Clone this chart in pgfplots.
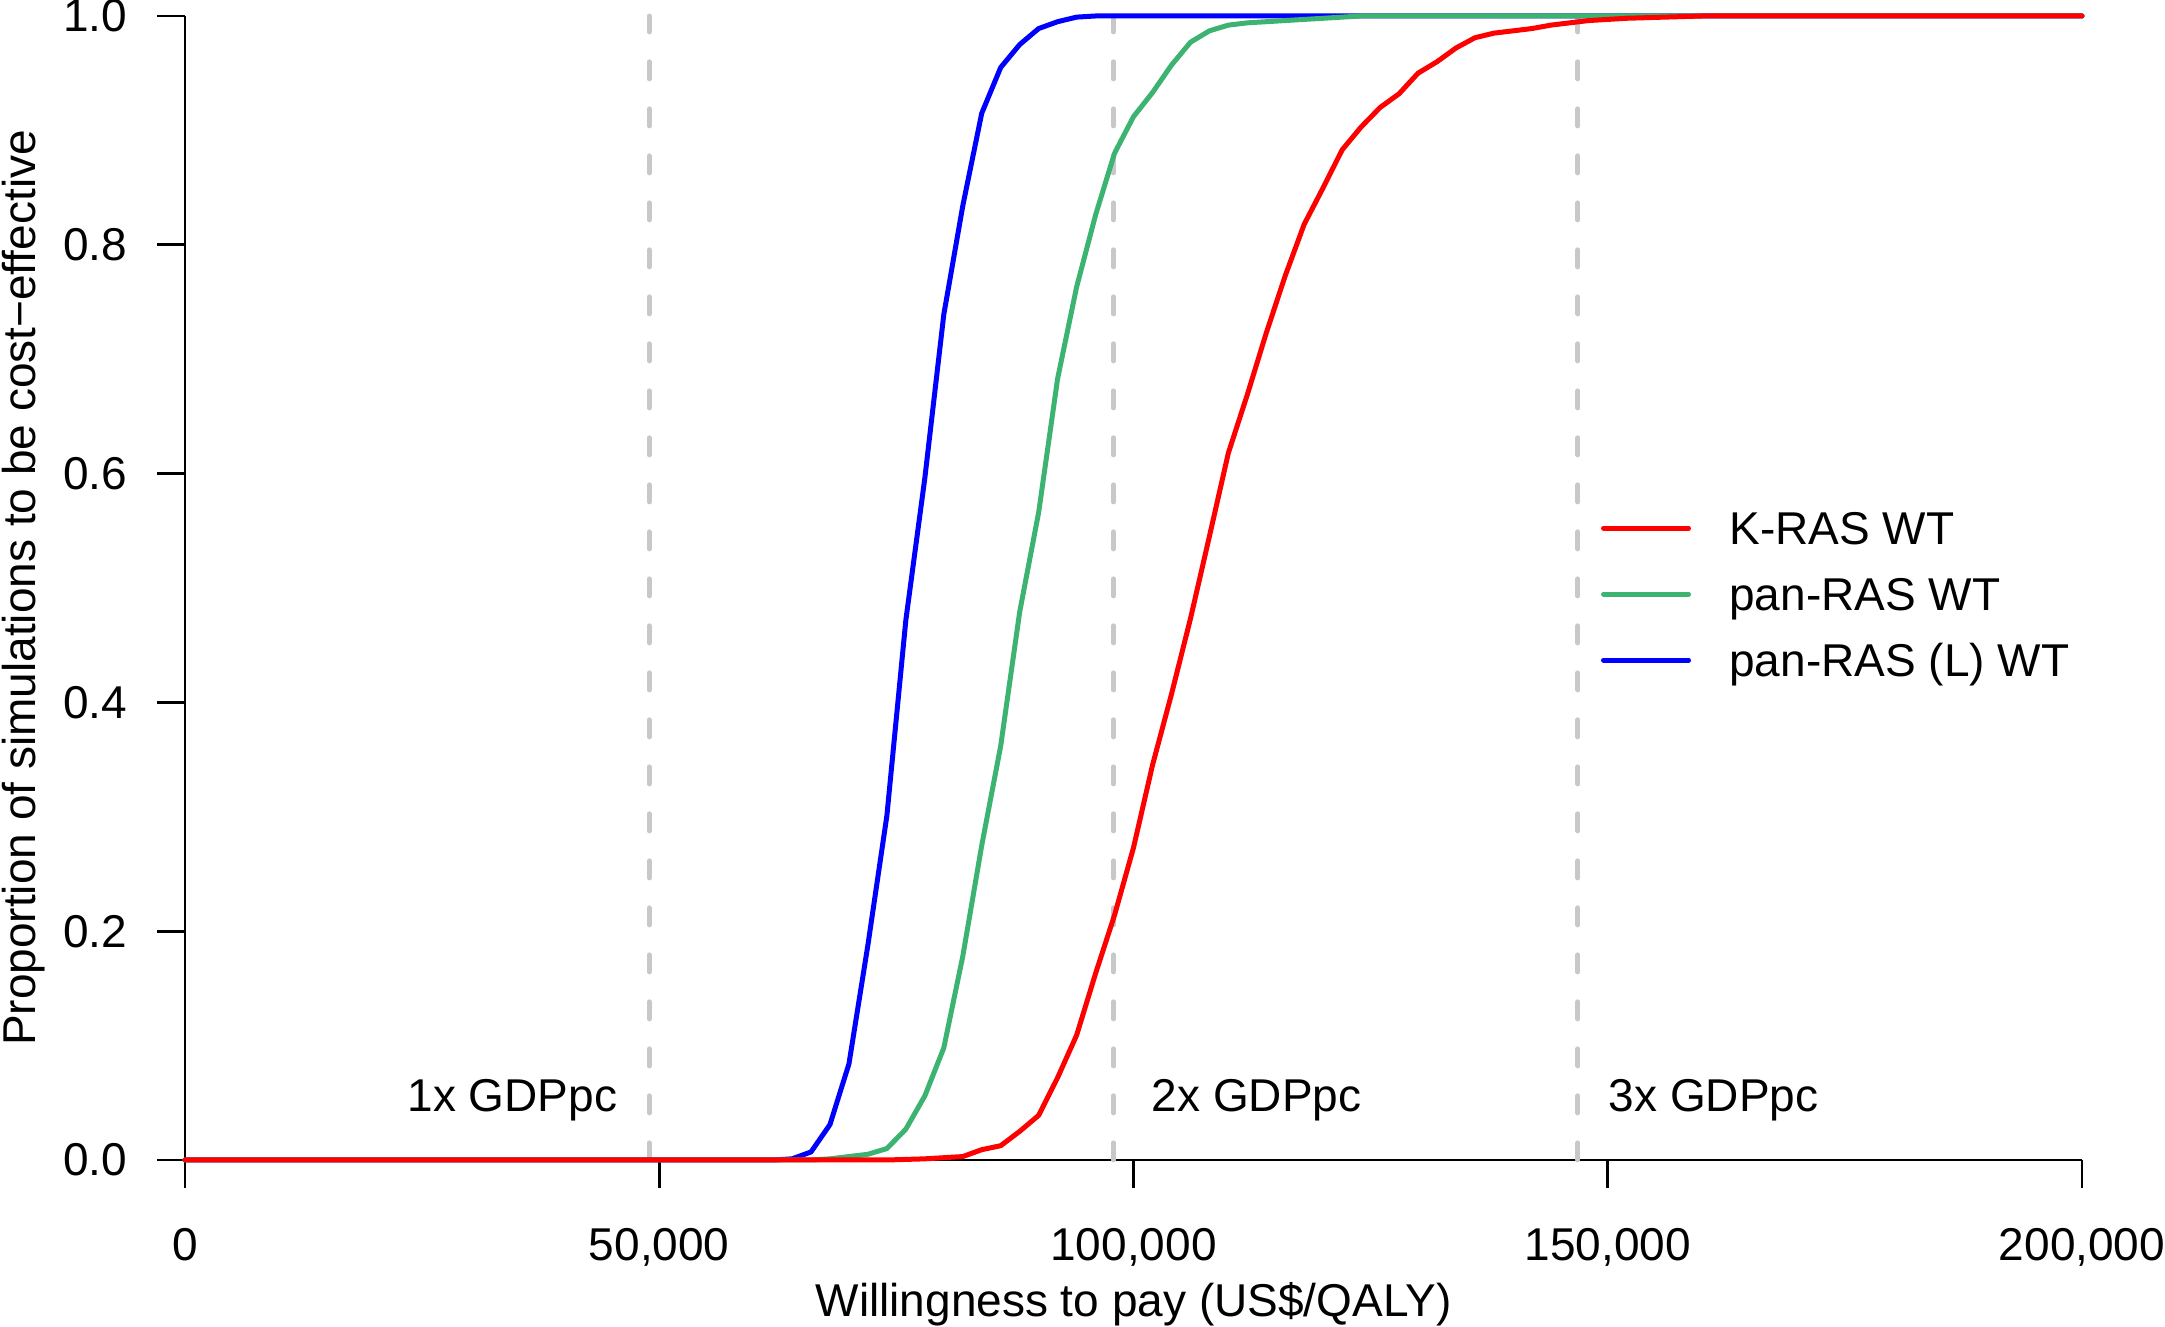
\documentclass[border=0pt]{standalone}
\usepackage{fontspec}
\setmainfont{Liberation Sans}
\usepackage{pgfplots}
\pgfplotsset{compat=1.18}
\definecolor{cred}{RGB}{255,0,0}
\definecolor{cgreen}{RGB}{60,179,113}
\definecolor{cblue}{RGB}{0,0,255}
\definecolor{cgray}{RGB}{200,200,200}

\begin{document}
\fontsize{11.5}{13.8}\selectfont
\begin{tikzpicture}[x=0.25pt,y=0.25pt]
\useasboundingbox (0,0) rectangle (2165,1327);
\begin{axis}[
  at={(46.25pt,41.75pt)}, anchor=south west,
  scale only axis, width=474.25pt, height=286pt,
  xmin=0, xmax=200000, ymin=0, ymax=1,
  clip=false,
  axis lines=left,
  axis line style={-, line width=0.7pt, black},
  xtick={0,50000,100000,150000,200000},
  ytick={0,0.2,0.4,0.6,0.8,1},
  tick align=outside,
  major tick length=7pt,
  tick style={line width=0.7pt, black},
  scaled x ticks=false,
  scaled y ticks=false,
  xticklabel style={/pgf/number format/.cd, fixed, 1000 sep={,}, assume math mode=true, /tikz/.cd, anchor=north, inner sep=0pt, yshift=-10pt},
  yticklabel style={/pgf/number format/.cd, fixed, fixed zerofill, precision=1, assume math mode=true, /tikz/.cd, anchor=east, inner sep=0pt, xshift=-7.25pt},
  legend style={at={(axis cs:149290,0.5695)}, anchor=north west, draw=none, fill=none,
    inner sep=0pt, outer sep=0pt, row sep=4.5pt,
    nodes={inner sep=0pt, outer sep=0pt, text height=9pt, text depth=3pt, anchor=base west},
    cells={anchor=base west},
    /tikz/every odd column/.append style={column sep=9.6pt}},
  legend image code/.code={\path (0pt,0pt); \draw[#1, line cap=round] (0pt,4.1pt) -- (21.25pt,4.1pt);},
]
\addlegendimage{cred, line width=1.25pt}
\addlegendentry{K-RAS WT}
\addlegendimage{cgreen, line width=1.25pt}
\addlegendentry{pan-RAS WT}
\addlegendimage{cblue, line width=1.25pt}
\addlegendentry{pan-RAS (L) WT}

% GDP per capita thresholds
\addplot[cgray, line width=1.2pt, dash pattern=on 4.3pt off 7.45pt, line cap=round, forget plot] coordinates {(48950,0) (48950,1)};
\addplot[cgray, line width=1.2pt, dash pattern=on 4.3pt off 7.45pt, line cap=round, forget plot] coordinates {(97900,0) (97900,1)};
\addplot[cgray, line width=1.2pt, dash pattern=on 4.3pt off 7.45pt, line cap=round, forget plot] coordinates {(146850,0) (146850,1)};

% pan-RAS (L) WT
\addplot[cblue, line width=1.25pt, line join=round, line cap=round, forget plot] coordinates {
(0,0) (62000,0) (64000,0.001) (66000,0.007) (68000,0.031) (70000,0.084) (72000,0.188)
(74000,0.301) (76000,0.472) (78000,0.596) (80000,0.739) (82000,0.834) (84000,0.915)
(86000,0.955) (88000,0.975) (90000,0.989) (92000,0.995) (94000,0.999) (96000,1.0) (200000,1.0)
};
% pan-RAS WT
\addplot[cgreen, line width=1.25pt, line join=round, line cap=round, forget plot] coordinates {
(0,0) (66000,0) (68000,0.001) (70000,0.003) (72000,0.005) (74000,0.010) (76000,0.027)
(78000,0.056) (80000,0.098) (82000,0.178) (84000,0.275) (86000,0.362) (88000,0.479)
(90000,0.566) (92000,0.683) (94000,0.763) (96000,0.826) (98000,0.880) (100000,0.912)
(102000,0.933) (104000,0.957) (106000,0.977) (108000,0.987) (110000,0.992) (112000,0.994)
(114000,0.995) (116000,0.996) (118000,0.997) (120000,0.998) (122000,0.999) (124000,1.0) (200000,1.0)
};
% K-RAS WT
\addplot[cred, line width=1.25pt, line join=round, line cap=round, forget plot] coordinates {
(0,0) (74000,0) (76000,0.0005) (78000,0.001) (80000,0.002) (82000,0.003) (84000,0.009)
(86000,0.0125) (88000,0.025) (90000,0.039) (92000,0.072) (94000,0.109) (96000,0.163)
(98000,0.214) (100000,0.273) (102000,0.345) (104000,0.407) (106000,0.473) (108000,0.545)
(110000,0.618) (112000,0.669) (114000,0.723) (116000,0.773) (118000,0.818) (120000,0.850)
(122000,0.883) (124000,0.903) (126000,0.920) (128000,0.932) (130000,0.950) (132000,0.960)
(134000,0.972) (136000,0.981) (138000,0.985) (140000,0.987) (142000,0.989) (144000,0.992)
(146000,0.994) (148000,0.996) (150000,0.997) (152000,0.998) (156000,0.999) (160000,1.0) (200000,1.0)
};

\node[anchor=base east, inner sep=0pt] at (axis cs:45650,0.042) {1x GDPpc};
\node[anchor=base west, inner sep=0pt] at (axis cs:101850,0.042) {2x GDPpc};
\node[anchor=base west, inner sep=0pt] at (axis cs:150030,0.042) {3x GDPpc};
\end{axis}
\node[rotate=90, anchor=base, inner sep=0pt] at (35,739) {Proportion of simulations to be cost−effective};
\node[anchor=base, inner sep=0pt] at (1133.5,10) {Willingness to pay (US\$/QALY)};
\end{tikzpicture}
\end{document}
